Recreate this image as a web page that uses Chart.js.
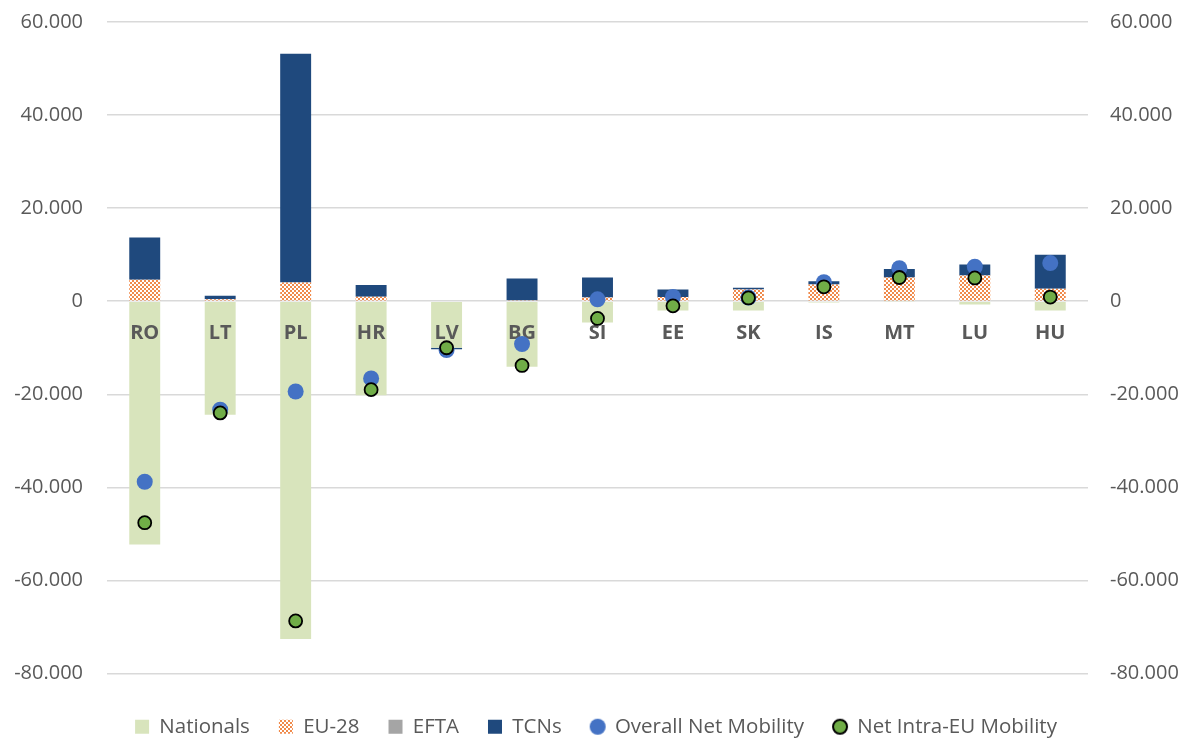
<!DOCTYPE html>
<html>
<head>
<meta charset="utf-8">
<script src="https://cdn.jsdelivr.net/npm/chart.js@4/dist/chart.umd.min.js"></script>
<style>
  html, body { margin: 0; padding: 0; background: #fff; }
  #wrap { width: 1192px; height: 738px; position: relative; }
</style>
</head>
<body>
<div id="wrap"><canvas id="chart"></canvas></div>
<script>
const countries = ["RO", "LT", "PL", "HR", "LV", "BG", "SI", "EE", "SK", "IS", "MT", "LU", "HU"];
const nationals = [-52300, -24400, -72600, -20200, -10000, -14100, -4600, -2000, -2000, -300, -100, -700, -2000];
const eu28 = [4600, 400, 4000, 950, 0, 200, 800, 900, 2500, 3600, 5100, 5500, 2700];
const efta = [0, 0, 0, 0, 0, 0, 0, 0, 0, 0, 0, 0, 0];
const tcns = [9100, 750, 49200, 2550, -300, 4700, 4300, 1600, 400, 700, 1800, 2400, 7300];
const overallNet = [-38800, -23300, -19400, -16600, -10500, -9200, 400, 900, 800, 4100, 7100, 7400, 8200];
const intraEuNet = [-47600, -24000, -68700, -19000, -10000, -13800, -3700, -1000, 700, 3100, 5100, 5000, 900];
const yTicks = [-80000, -60000, -40000, -20000, 0, 20000, 40000, 60000];

const textGrey = "#595959";
Chart.defaults.font.family = "'Open Sans', 'Noto Sans', sans-serif";
Chart.defaults.color = textGrey;

// small checkerboard fill for EU-28, like the Excel pattern
function checker() {
  const c = document.createElement("canvas");
  c.width = 4; c.height = 4;
  const g = c.getContext("2d");
  g.fillStyle = "#ffffff";
  g.fillRect(0, 0, 4, 4);
  g.fillStyle = "#f08a4b";
  g.fillRect(0, 0, 2, 2);
  g.fillRect(2, 2, 2, 2);
  return g.createPattern(c, "repeat");
}

function dotIcon(fill, stroke, r) {
  const c = document.createElement("canvas");
  c.width = 18; c.height = 18;
  const g = c.getContext("2d");
  g.beginPath();
  g.arc(9, 9, r, 0, Math.PI * 2);
  g.fillStyle = fill;
  g.fill();
  if (stroke) { g.lineWidth = 2; g.strokeStyle = stroke; g.stroke(); }
  return c;
}

function fmt(v) {
  if (v === 0) return "0";
  return (v < 0 ? "-" : "") + Math.abs(v / 1000) + ".000";
}

// country labels sit above the bars but under the dots, so they get
// drawn again right after the bars instead of in the axis layer
let labelsOnTop = false;
const labelsOverBars = {
  id: "labelsOverBars",
  afterDatasetDraw(chart, args) {
    if (args.index !== 0) return;
    const sx = chart.scales.x;
    sx._labelItems = null;
    labelsOnTop = true;
    sx.drawLabels(chart.chartArea);
    labelsOnTop = false;
    sx._labelItems = null;
  },
};

const euPattern = checker();

const datasets = [
  { label: "Nationals", data: nationals, backgroundColor: "#d8e4bc", stack: "bars", order: 2 },
  { label: "EU-28", data: eu28, backgroundColor: euPattern, stack: "bars", order: 2 },
  { label: "EFTA", data: efta, backgroundColor: "#a5a5a5", stack: "bars", order: 2 },
  { label: "TCNs", data: tcns, backgroundColor: "#1f497d", stack: "bars", order: 2 },
  {
    type: "line", label: "Overall Net Mobility", data: overallNet, stack: "overall", order: 1,
    showLine: false, pointRadius: 8, pointHoverRadius: 8, pointBorderWidth: 0,
    backgroundColor: "#4472c4", borderColor: "#4472c4",
    legendIcon: dotIcon("#4472c4", null, 8),
  },
  {
    type: "line", label: "Net Intra-EU Mobility", data: intraEuNet, stack: "intra", order: 0,
    showLine: false, pointRadius: 6.5, pointHoverRadius: 6.5, pointBorderWidth: 1.8,
    backgroundColor: "#70ad47", borderColor: "#000000",
    legendIcon: dotIcon("#70ad47", "#000000", 7),
  },
];

const yCommon = {
  min: -80000,
  max: 60000,
  afterBuildTicks: (scale) => { scale.ticks = yTicks.map((v) => ({ value: v })); },
  border: { display: false },
};

function fixWidth(w) {
  return (scale) => {
    scale.width = w;
    scale.paddingTop = 0;
    scale.paddingBottom = 0;
  };
}

new Chart(document.getElementById("chart"), {
  type: "bar",
  data: { labels: countries, datasets: datasets },
  plugins: [labelsOverBars],
  options: {
    responsive: true,
    maintainAspectRatio: false,
    animation: false,
    categoryPercentage: 1,
    barPercentage: 0.41,
    layout: { padding: { top: 22, right: 0, bottom: -9, left: 0 } },
    plugins: {
      tooltip: { enabled: false },
      legend: {
        position: "bottom",
        title: { display: true, text: " ", font: { size: 10 }, padding: { top: 2, bottom: 0 } },
        labels: {
          usePointStyle: true,
          boxWidth: 14,
          boxHeight: 14,
          padding: 29,
          color: textGrey,
          font: { size: 20.5 },
          sort: (a, b) => a.datasetIndex - b.datasetIndex,
          generateLabels(chart) {
            const items = Chart.defaults.plugins.legend.labels.generateLabels(chart);
            items.forEach((it) => {
              const ds = chart.data.datasets[it.datasetIndex];
              it.pointStyle = ds.legendIcon || "rect";
              it.lineWidth = 0;
            });
            return items;
          },
        },
      },
    },
    scales: {
      x: {
        stacked: true,
        position: { y: 0 },
        grid: { display: false },
        border: { display: false },
        ticks: {
          color: () => (labelsOnTop ? textGrey : "rgba(0,0,0,0)"),
          font: { size: 20, weight: "bold" },
          padding: 12,
        },
      },
      y: {
        ...yCommon,
        stacked: true,
        position: "left",
        afterFit: fixWidth(107),
        grid: { color: "#d9d9d9", lineWidth: 1.5, drawTicks: false },
        ticks: { color: textGrey, font: { size: 20 }, padding: 24, callback: fmt },
      },
      y2: {
        ...yCommon,
        position: "right",
        afterFit: fixWidth(104),
        grid: { display: false, drawTicks: false },
        ticks: { color: textGrey, font: { size: 20 }, padding: 22, callback: fmt },
      },
    },
  },
});
</script>
</body>
</html>
